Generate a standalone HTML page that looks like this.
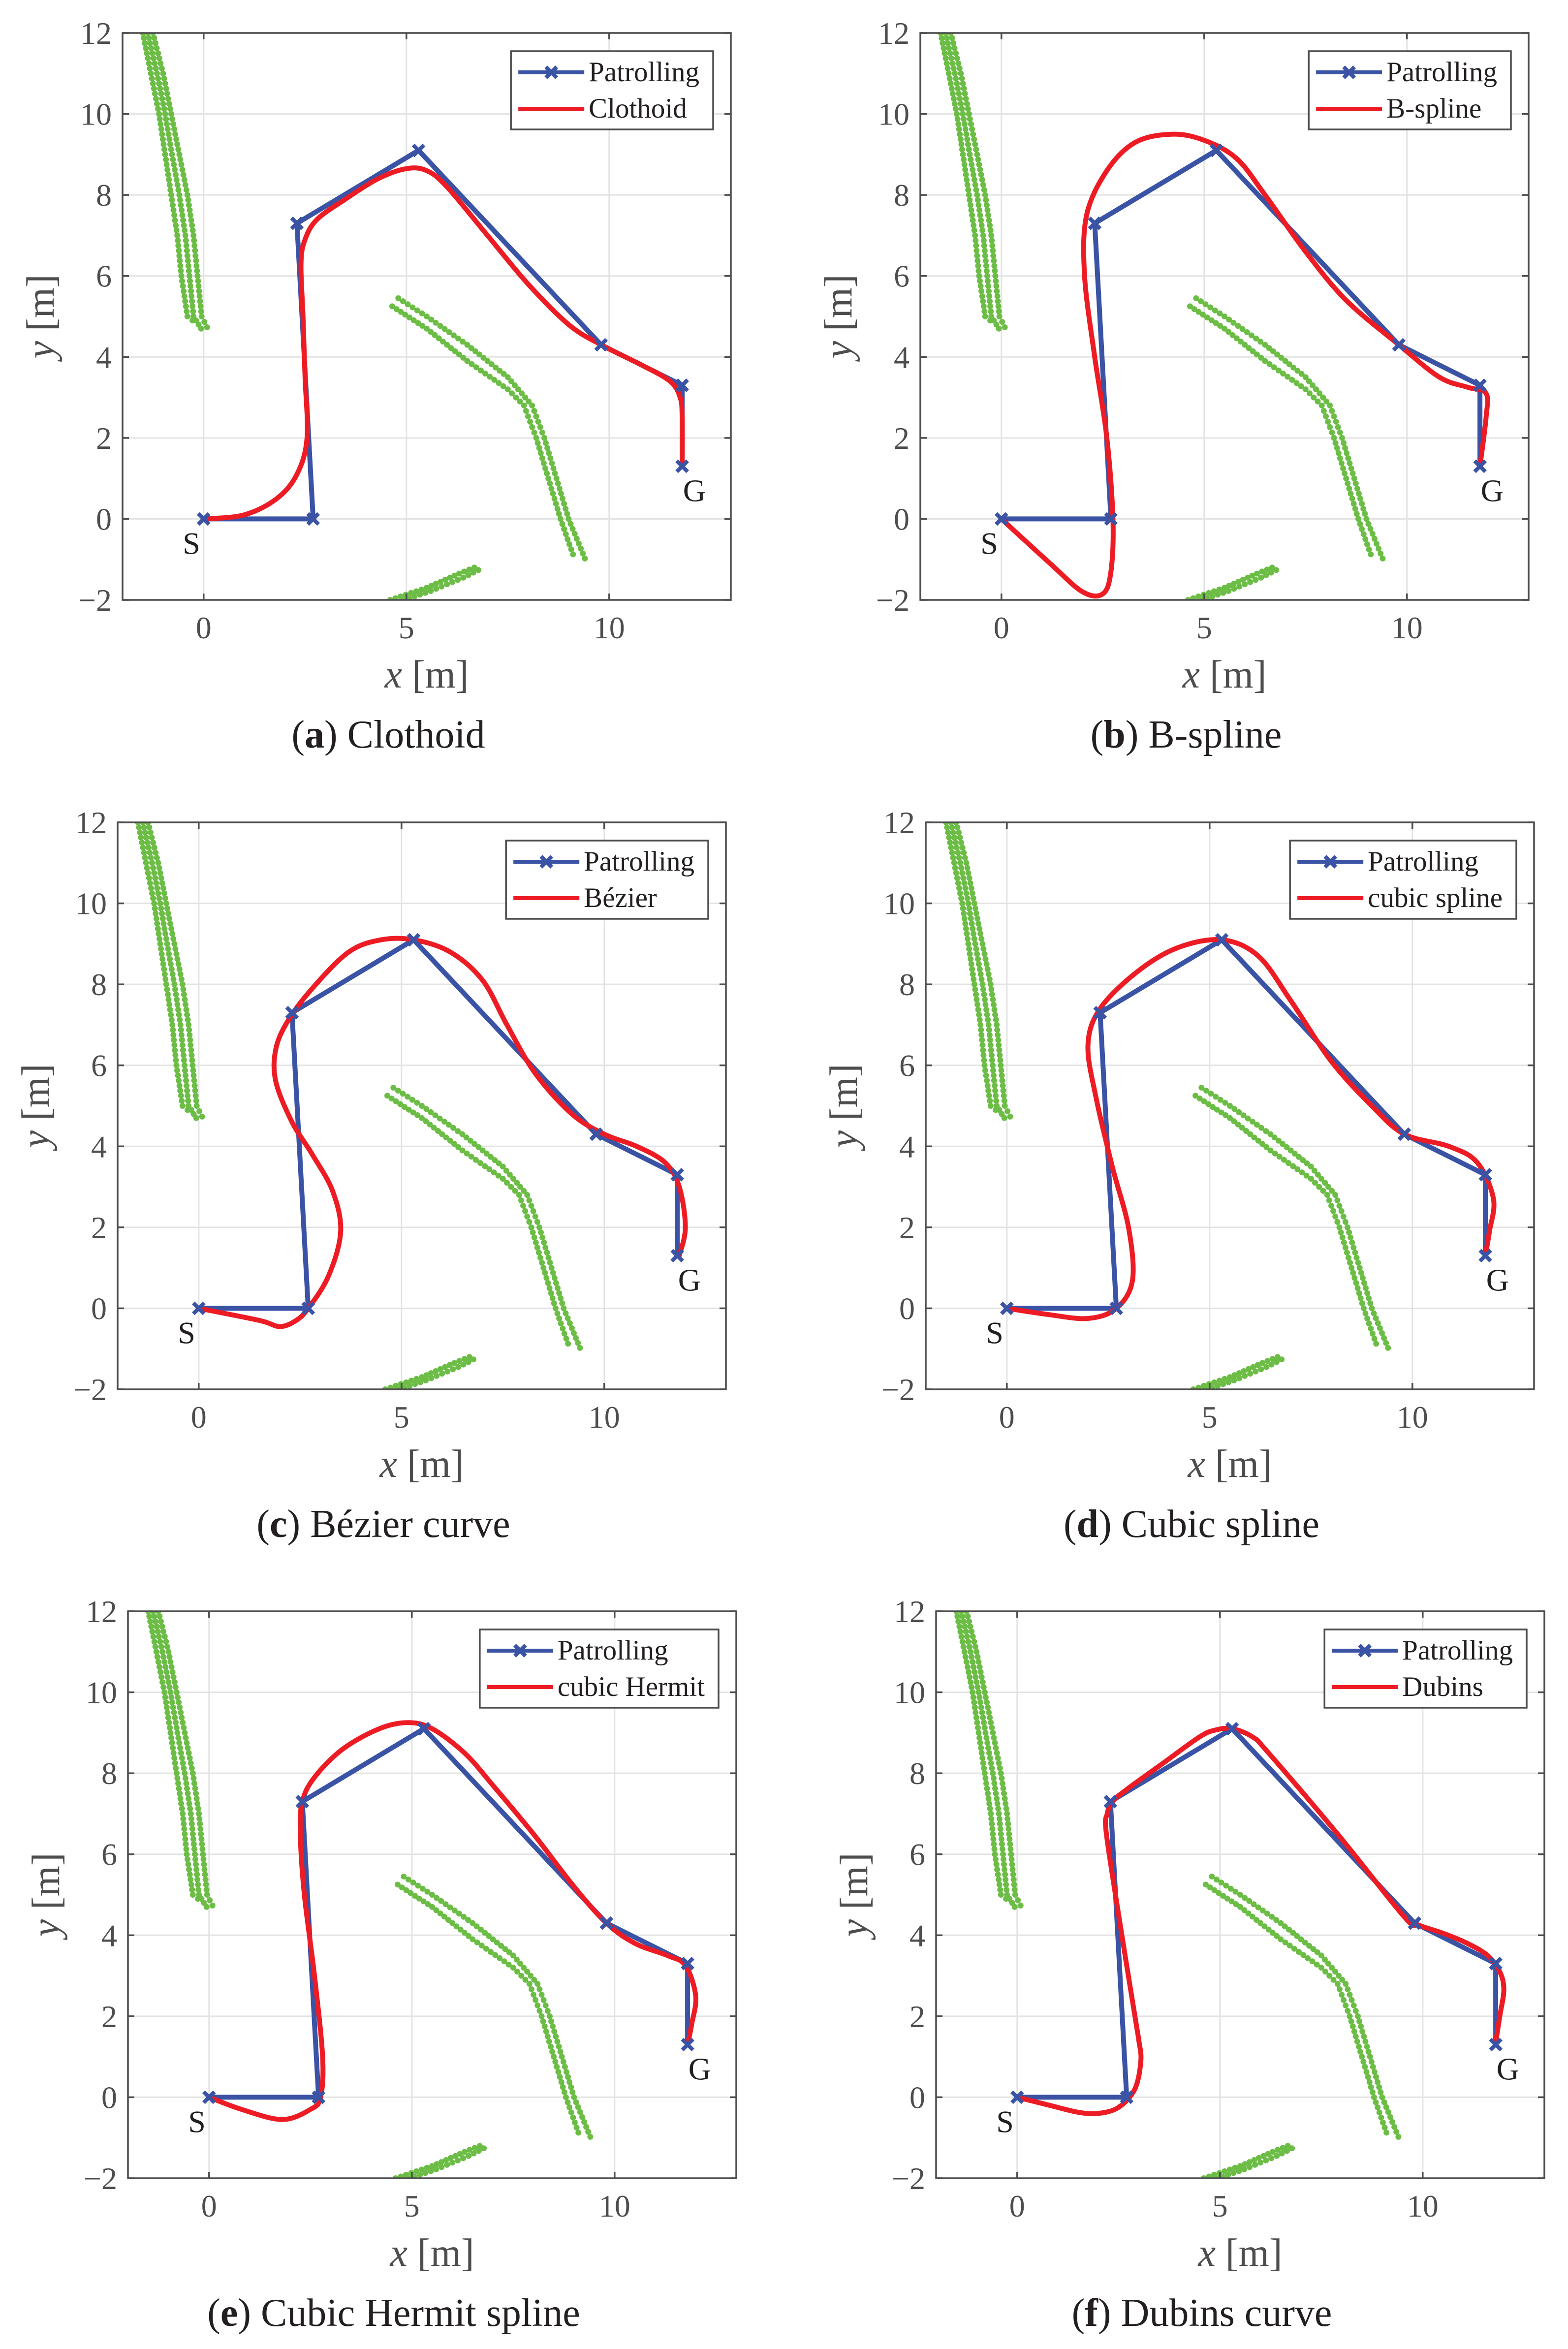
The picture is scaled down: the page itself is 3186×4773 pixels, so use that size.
<!DOCTYPE html>
<html><head><meta charset="utf-8"><title>Path smoothing comparison</title>
<style>
html,body{margin:0;padding:0;background:#fff;}
svg{display:block;font-family:"Liberation Serif",serif;}
</style></head>
<body>
<svg id="fig" xmlns="http://www.w3.org/2000/svg" width="3186" height="4773" viewBox="0 0 3186 4773" font-family="Liberation Serif, serif"></svg>
<script>
// ---- data ----
const xTicks = [0, 5, 10];
const yTicks = [-2, 0, 2, 4, 6, 8, 10, 12];
const patrolX = [0, 2.7, 2.3, 5.3, 9.8, 11.8, 11.8];
const patrolY = [0, 0, 7.3, 9.1, 4.3, 3.3, 1.3];
const clothoidX = [0,1,1.8,2.3,2.55,2.5,2.45,2.4,2.5,2.8,3.5,4.3,5,5.5,6,7,8,9,9.8,10.8,11.5,11.75,11.8,11.8];
const clothoidY = [0,0.1,0.5,1.1,2,3.5,5,6.3,6.9,7.4,7.9,8.4,8.65,8.6,8.2,7.0,5.8,4.8,4.3,3.8,3.4,3.0,2.5,1.3];
const bsplineX = [0,1.2,2,2.5,2.7,2.75,2.6,2.3,2.05,2.1,2.6,3.3,4.2,5,5.8,6.5,7.5,8.5,9.8,10.8,11.5,11.95,11.95,11.8];
const bsplineY = [0,-1.1,-1.8,-1.85,-1.3,0,2,4,6,7.5,8.6,9.3,9.5,9.35,8.9,8.0,6.6,5.4,4.3,3.5,3.25,3.1,2.5,1.3];
const bezierX = [0,1.5,2.0,2.4,2.7,3.2,3.5,3.3,2.8,2.3,1.9,1.9,2.2,2.8,3.7,4.5,5.3,6.2,7,7.6,8.3,9.2,10,10.8,11.5,11.85,12.0,11.85];
const bezierY = [0,-0.3,-0.45,-0.3,0,0.8,1.9,2.9,3.8,4.6,5.6,6.4,7.1,7.9,8.8,9.1,9.1,8.8,8.1,7.0,5.8,4.8,4.3,4.0,3.6,3.0,2.0,1.3];
const cubicX = [0,1,2,2.7,3.1,3.0,2.6,2.2,2.0,2.3,3.2,4.2,5.3,6.2,7,8,9,9.8,10.9,11.6,12.0,11.9,11.8];
const cubicY = [0,-0.15,-0.25,0,0.7,2,3.5,5.2,6.5,7.4,8.3,8.9,9.1,8.7,7.6,6.1,5,4.3,4.0,3.6,2.7,1.9,1.3];
const hermiteX = [0,0.8,1.8,2.5,2.75,2.8,2.6,2.35,2.25,2.3,2.6,3.3,4.2,4.9,5.5,6.3,7,8,9,9.8,10.5,11.3,11.75,12.0,11.9,11.8];
const hermiteY = [0,-0.3,-0.55,-0.3,0,1,3,5,6.5,7.3,7.9,8.6,9.1,9.25,9.1,8.5,7.7,6.5,5.2,4.3,3.8,3.5,3.25,2.5,1.8,1.3];
const dubinsX = [0,0.8,1.5,2.0,2.5,2.9,3.05,3.0,2.92,2.55,2.2,2.22,2.35,2.7,3.6,4.5,4.9,5.3,5.8,6.2,7.9,9.55,9.9,10.5,11.1,11.6,11.9,12.0,11.9,11.8];
const dubinsY = [0,-0.2,-0.37,-0.4,-0.25,0.2,0.9,1.4,1.9,4.2,6.5,7.0,7.3,7.6,8.25,8.9,9.07,9.1,8.9,8.5,6.5,4.45,4.25,4.05,3.8,3.5,3.1,2.65,2.0,1.35];
// obstacle outlines (dots are placed along these lines)
const obsLeft1X = [-1.5,-1.3,-1.1,-0.95,-0.8,-0.65,-0.55,-0.4,-0.15];
const obsLeft1Y = [12,11,10,9,8,7,6,5,4.8];
const obsLeft2X = [-1.38,-1.15,-0.95,-0.78,-0.6,-0.45,-0.35,-0.25,0.0];
const obsLeft2Y = [12,11,10,9,8,7,6,5,4.6];
const obsLeft3X = [-1.25,-1.0,-0.8,-0.6,-0.4,-0.25,-0.15,-0.05,0.15];
const obsLeft3Y = [12,11,10,9,8,7,6,5,4.6];
const obsMidAX = [4.8,5.5,6.5,7.5,8.1,8.4,8.7,9.0,9.45];
const obsMidAY = [5.45,5.0,4.3,3.5,2.8,2.0,1.0,0.0,-1.1];
const obsMidBX = [4.65,5.5,6.5,7.5,7.9,8.2,8.5,8.8,9.15];
const obsMidBY = [5.25,4.7,3.9,3.2,2.8,2.0,1.0,0.0,-1.0];
const obsLowAX = [4.6,5.5,6.3,6.8];
const obsLowAY = [-2.0,-1.7,-1.35,-1.15];
const obsLowBX = [4.8,5.6,6.4,6.9];
const obsLowBY = [-2.05,-1.78,-1.45,-1.2];

// ---- layout ----
const NS = "http://www.w3.org/2000/svg";
const FONT = '"Liberation Serif", serif';
const svg = document.getElementById('fig');
const W = 1236, H = 1152, UX = W / 15, UY = H / 14;
const panels = [
  {id:'a', left:249, bottom:1219, name:'Clothoid', cap:'Clothoid', cx:clothoidX, cy:clothoidY},
  {id:'b', left:1870, bottom:1219, name:'B-spline', cap:'B-spline', cx:bsplineX, cy:bsplineY},
  {id:'c', left:239, bottom:2823, name:'Bézier', cap:'Bézier curve', cx:bezierX, cy:bezierY},
  {id:'d', left:1881, bottom:2823, name:'cubic spline', cap:'Cubic spline', cx:cubicX, cy:cubicY},
  {id:'e', left:260, bottom:4426, name:'cubic Hermit', cap:'Cubic Hermit spline', cx:hermiteX, cy:hermiteY},
  {id:'f', left:1902, bottom:4426, name:'Dubins', cap:'Dubins curve', cx:dubinsX, cy:dubinsY}
];
function mk(tag, attrs, parent) {
  const e = document.createElementNS(NS, tag);
  for (const k in attrs) e.setAttribute(k, attrs[k]);
  if (tag === 'text') e.style.fontFamily = FONT;
  (parent || svg).appendChild(e);
  return e;
}
function crPath(px, py) {
  let d = 'M' + px[0].toFixed(1) + ' ' + py[0].toFixed(1);
  for (let i = 0; i < px.length - 1; i++) {
    const p0x = px[Math.max(i-1,0)], p0y = py[Math.max(i-1,0)];
    const p3x = px[Math.min(i+2,px.length-1)], p3y = py[Math.min(i+2,px.length-1)];
    const c1x = px[i] + (px[i+1]-p0x)/6, c1y = py[i] + (py[i+1]-p0y)/6;
    const c2x = px[i+1] - (p3x-px[i])/6, c2y = py[i+1] - (p3y-py[i])/6;
    d += ' C' + c1x.toFixed(1)+' '+c1y.toFixed(1)+' '+c2x.toFixed(1)+' '+c2y.toFixed(1)+' '+px[i+1].toFixed(1)+' '+py[i+1].toFixed(1);
  }
  return d;
}
const obstacleLines = [[obsLeft1X,obsLeft1Y],[obsLeft2X,obsLeft2Y],[obsLeft3X,obsLeft3Y],[obsMidAX,obsMidAY],[obsMidBX,obsMidBY],[obsLowAX,obsLowAY],[obsLowBX,obsLowBY]];

panels.forEach(p => {
  const top = p.bottom - H;
  const sx = v => p.left + (v + 2) * UX;
  const sy = v => p.bottom - (v + 2) * UY;
  const g = mk('g', {});
  
  
  mk('rect', {x:p.left, y:top, width:W, height:H, fill:'#fff'}, g);
  const clipId = 'clip' + p.id;
  const cp = mk('clipPath', {id:clipId}, g);
  mk('rect', {x:p.left, y:top, width:W, height:H}, cp);
  const grid = mk('g', {stroke:'#e3e3e3', 'stroke-width':3}, g);
  
  
  xTicks.forEach(t => mk('line', {x1:sx(t), x2:sx(t), y1:top, y2:p.bottom}, grid));
  yTicks.forEach(t => mk('line', {x1:p.left, x2:p.left+W, y1:sy(t), y2:sy(t)}, grid));
  const plot = mk('g', {'clip-path':'url(#'+clipId+')'}, g);
  const obs = mk('g', {fill:'#6cbd45'}, plot);
  
  
  obstacleLines.forEach(([lx, ly]) => {
    for (let i = 0; i < lx.length - 1; i++) {
      const x1 = sx(lx[i]), y1 = sy(ly[i]), x2 = sx(lx[i+1]), y2 = sy(ly[i+1]);
      const len = Math.hypot(x2-x1, y2-y1), n = Math.max(1, Math.round(len / 11));
      for (let k = 0; k < n; k++) {
        const t = k / n;
        mk('circle', {cx:(x1+(x2-x1)*t).toFixed(1), cy:(y1+(y2-y1)*t).toFixed(1), r:6}, obs);
      }
    }
  });
  const ppx = patrolX.map(sx), ppy = patrolY.map(sy);
  const pl = mk('polyline', {points: ppx.map((x,i)=>x.toFixed(1)+','+ppy[i].toFixed(1)).join(' '), fill:'none', stroke:'#3a53a4', 'stroke-width':10, 'stroke-linejoin':'round'}, plot);
  
  
  const cv = mk('path', {d: crPath(p.cx.map(sx), p.cy.map(sy)), fill:'none', stroke:'#ed1c24', 'stroke-width':10, 'stroke-linejoin':'round', 'stroke-linecap':'round'}, plot);
  
  
  ppx.forEach((x, i) => {
    const m = mk('path', {d:'M'+(x-11)+' '+(ppy[i]-11)+' L'+(x+11)+' '+(ppy[i]+11)+' M'+(x-11)+' '+(ppy[i]+11)+' L'+(x+11)+' '+(ppy[i]-11), stroke:'#3a53a4', 'stroke-width':8}, g);
    
    
  });
  const sL = mk('text', {x:sx(-0.3), y:sy(-0.62)+20, 'font-size':64, fill:'#231f20', 'text-anchor':'middle'}, g);
  sL.textContent = 'S';
  
  
  const gL = mk('text', {x:sx(12.1), y:sy(0.68)+20, 'font-size':64, fill:'#231f20', 'text-anchor':'middle'}, g);
  gL.textContent = 'G';
  
  
  const ax = mk('g', {stroke:'#4d4d4d', 'stroke-width':3.5, fill:'none'}, g);
  
  
  mk('rect', {x:p.left, y:top, width:W, height:H}, ax);
  xTicks.forEach(t => { mk('line', {x1:sx(t), x2:sx(t), y1:p.bottom, y2:p.bottom-13}, ax); mk('line', {x1:sx(t), x2:sx(t), y1:top, y2:top+13}, ax); });
  yTicks.forEach(t => { mk('line', {x1:p.left, x2:p.left+13, y1:sy(t), y2:sy(t)}, ax); mk('line', {x1:p.left+W, x2:p.left+W-13, y1:sy(t), y2:sy(t)}, ax); });
  xTicks.forEach(t => {
    const tx = mk('text', {x:sx(t), y:p.bottom+78, 'font-size':64, fill:'#4d4d4d', 'text-anchor':'middle'}, g);
    tx.textContent = String(t);
    
    
  });
  yTicks.forEach(t => {
    const ty = mk('text', {x:p.left-22, y:sy(t)+22, 'font-size':64, fill:'#4d4d4d', 'text-anchor':'end'}, g);
    ty.textContent = t < 0 ? '\u2212' + Math.abs(t) : String(t);
    
    
  });
  const xt = mk('text', {x:p.left+W/2, y:p.bottom+178, 'font-size':80, fill:'#4d4d4d', 'text-anchor':'middle'}, g);
  xt.innerHTML = '<tspan font-style="italic">x</tspan> [m]';
  
  
  const yx = p.left - 140, yy = top + H/2;
  const yt = mk('text', {x:yx, y:yy, 'font-size':80, fill:'#4d4d4d', 'text-anchor':'middle', transform:'rotate(-90 '+yx+' '+yy+')'}, g);
  yt.innerHTML = '<tspan font-style="italic">y</tspan> [m]';
  
  
  const cap = mk('text', {x:p.left+540, y:p.bottom+300, 'font-size':80, fill:'#231f20', 'text-anchor':'middle'}, g);
  cap.innerHTML = '(<tspan font-weight="bold">' + p.id + '</tspan>) ' + p.cap;
  
  
  const lg = mk('g', {}, g);
  
  
  const box = mk('rect', {y:top+37, height:159, fill:'#fff', stroke:'#4d4d4d', 'stroke-width':3.5}, lg);
  const t1 = mk('text', {y:top+37+61, 'font-size':57, fill:'#231f20'}, lg);
  t1.textContent = 'Patrolling';
  
  
  const t2 = mk('text', {y:top+37+135, 'font-size':57, fill:'#231f20'}, lg);
  t2.textContent = p.name;
  
  
  const tw = Math.max(t1.getComputedTextLength(), t2.getComputedTextLength());
  const right = p.left + W - 36;
  const bw = 158 + tw + 28, bl = right - bw;
  box.setAttribute('x', bl); box.setAttribute('width', bw);
  t1.setAttribute('x', bl + 158); t2.setAttribute('x', bl + 158);
  const r1 = top + 37 + 43, r2 = top + 37 + 117;
  mk('line', {x1:bl+15, x2:bl+149, y1:r1, y2:r1, stroke:'#3a53a4', 'stroke-width':8}, lg);
  mk('path', {d:'M'+(bl+71)+' '+(r1-11)+' L'+(bl+93)+' '+(r1+11)+' M'+(bl+71)+' '+(r1+11)+' L'+(bl+93)+' '+(r1-11), stroke:'#3a53a4', 'stroke-width':8}, lg);
  mk('line', {x1:bl+15, x2:bl+149, y1:r2, y2:r2, stroke:'#ed1c24', 'stroke-width':8}, lg);
});
</script>
</body></html>
